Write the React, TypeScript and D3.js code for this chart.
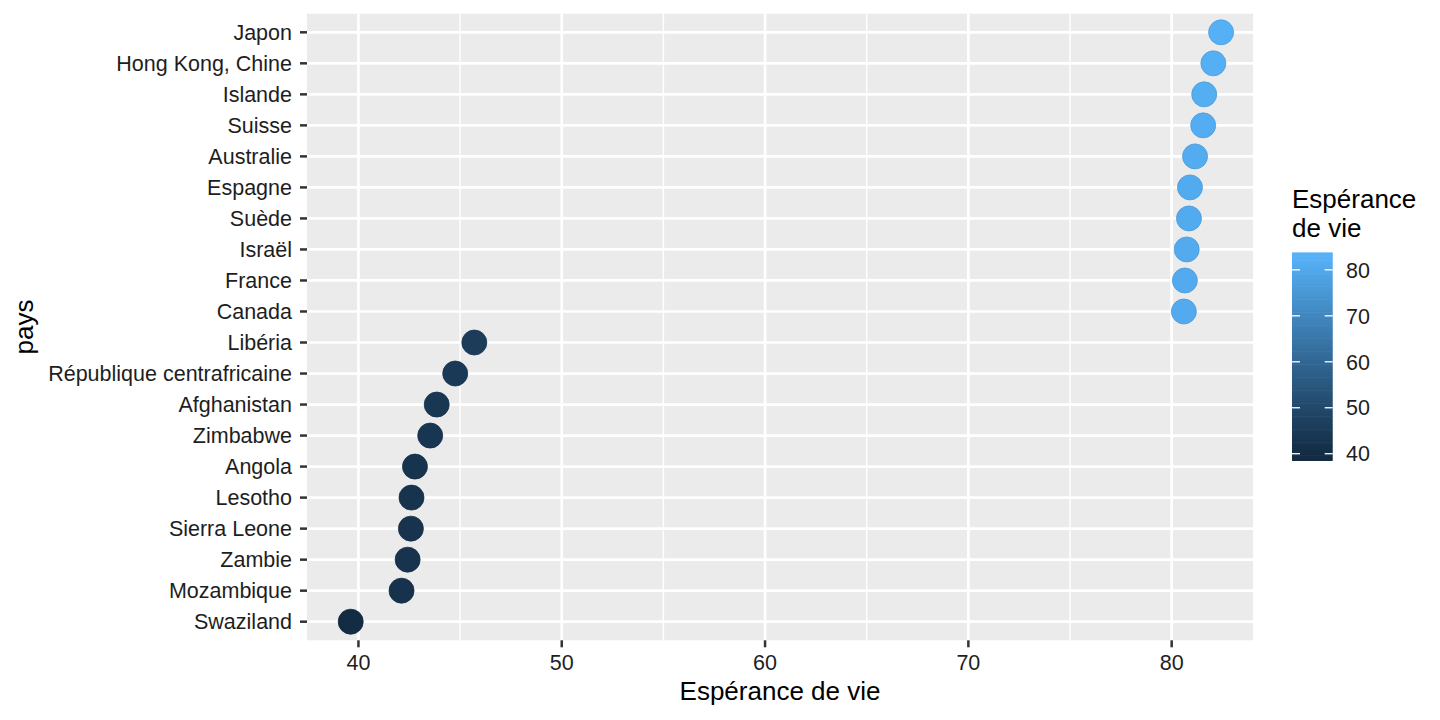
import React from "react";
import * as d3 from "d3";

const countries = [
  "Japon", "Hong Kong, Chine", "Islande", "Suisse", "Australie", "Espagne", "Suède", "Israël", "France", "Canada",
  "Libéria", "République centrafricaine", "Afghanistan", "Zimbabwe", "Angola", "Lesotho", "Sierra Leone", "Zambie", "Mozambique", "Swaziland",
];
const lifeExp = [
  82.43, 82.05, 81.6, 81.55, 81.15, 80.9, 80.85, 80.74, 80.65, 80.6,
  45.7, 44.76, 43.85, 43.53, 42.78, 42.61, 42.58, 42.42, 42.12, 39.62,
];
const xTicks = [40, 50, 60, 70, 80];
const xMinor = [45, 55, 65, 75];
const xDomain = [37.47, 84.0];
const colorLimits = [39.613, 82.603];
const legendTicks = [40, 50, 60, 70, 80];
const colorLow = "#132B43";
const colorHigh = "#56B1F7";

const W = 1440, H = 720;
const panel = { left: 307, right: 1253, top: 13.7, bottom: 640.3 };
const axisFont = 21.5;
const titleFont = 26;
const textColor = "#1e1e1e";
const fontFamily = "'Liberation Sans', Arial, Helvetica, sans-serif";

export default function App() {
  const x = d3.scaleLinear().domain(xDomain).range([panel.left, panel.right]);
  const y = d3.scalePoint<string>().domain(countries).range([panel.top, panel.bottom]).padding(0.6);
  const color = d3.scaleLinear<string>().domain(colorLimits).range([colorLow, colorHigh]).interpolate(d3.interpolateLab);

  // legend
  const bar = { x0: 1292, x1: 1332.7, top: 252.7, bottom: 460.7 };
  const tickBins = 20;
  const drawBins = 80;
  const barLen = bar.bottom - bar.top;
  const binH = barLen / drawBins;
  const legY = d3
    .scaleLinear()
    .domain(colorLimits)
    .range([bar.bottom - (barLen * 0.5) / tickBins, bar.top + (barLen * 0.5) / tickBins]);
  const bins = d3.range(drawBins).map((i) => {
    const yc = bar.bottom - (i + 0.5) * binH;
    const v = Math.max(colorLimits[0], Math.min(colorLimits[1], legY.invert(yc)));
    return { i, v };
  });

  return (
    <svg width={W} height={H} style={{ position: "absolute", left: 0, top: 0, background: "#fff" }} fontFamily={fontFamily}>
      <rect x={0} y={0} width={W} height={H} fill="#fff" />
      <rect x={panel.left} y={panel.top} width={panel.right - panel.left} height={panel.bottom - panel.top} fill="#EBEBEB" />
      {xMinor.map((t) => (
        <line key={"mn" + t} x1={x(t)} x2={x(t)} y1={panel.top} y2={panel.bottom} stroke="#fff" strokeWidth={1.4} />
      ))}
      {xTicks.map((t) => (
        <line key={"mj" + t} x1={x(t)} x2={x(t)} y1={panel.top} y2={panel.bottom} stroke="#fff" strokeWidth={2.7} />
      ))}
      {countries.map((c) => (
        <line key={"hg" + c} x1={panel.left} x2={panel.right} y1={y(c)} y2={y(c)} stroke="#fff" strokeWidth={2.7} />
      ))}
      {countries.map((c, i) => (
        <circle key={"pt" + c} cx={x(lifeExp[i])} cy={y(c)} r={12.5} fill={color(lifeExp[i])} stroke={d3.color(color(lifeExp[i]))!.darker(0.3).toString()} strokeWidth={0.8} />
      ))}
      {/* y axis */}
      {countries.map((c) => (
        <g key={"yl" + c}>
          <line x1={panel.left - 7} x2={panel.left} y1={y(c)} y2={y(c)} stroke="#333" strokeWidth={2.5} />
          <text x={292} y={(y(c) as number) + axisFont * 0.36} textAnchor="end" fontSize={axisFont} fill={textColor}>
            {c}
          </text>
        </g>
      ))}
      {/* x axis */}
      {xTicks.map((t) => (
        <g key={"xl" + t}>
          <line x1={x(t)} x2={x(t)} y1={panel.bottom} y2={panel.bottom + 7} stroke="#333" strokeWidth={2.5} />
          <text x={x(t)} y={670} textAnchor="middle" fontSize={axisFont} fill={textColor}>
            {t}
          </text>
        </g>
      ))}
      <text x={(panel.left + panel.right) / 2} y={700} textAnchor="middle" fontSize={titleFont} fill="#000">
        Espérance de vie
      </text>
      <text transform={`translate(33, ${(panel.top + panel.bottom) / 2}) rotate(-90)`} textAnchor="middle" fontSize={titleFont} fill="#000">
        pays
      </text>
      {/* legend */}
      <text x={1292} y={208.3} fontSize={titleFont} fill="#000">Espérance</text>
      <text x={1292} y={236.7} fontSize={titleFont} fill="#000">de vie</text>
      {bins.map((b) => (
        <rect key={"bin" + b.i} x={bar.x0} width={bar.x1 - bar.x0} y={bar.bottom - (b.i + 1) * binH - 0.3} height={binH + 0.6} fill={color(b.v)} />
      ))}
      {legendTicks.map((t) => (
        <g key={"lt" + t}>
          <line x1={bar.x0} x2={bar.x0 + 8} y1={legY(t)} y2={legY(t)} stroke="#fff" strokeWidth={1.3} />
          <line x1={bar.x1 - 8} x2={bar.x1} y1={legY(t)} y2={legY(t)} stroke="#fff" strokeWidth={1.3} />
          <text x={1346} y={legY(t) + axisFont * 0.36} fontSize={axisFont} fill={textColor}>
            {t}
          </text>
        </g>
      ))}
    </svg>
  );
}
